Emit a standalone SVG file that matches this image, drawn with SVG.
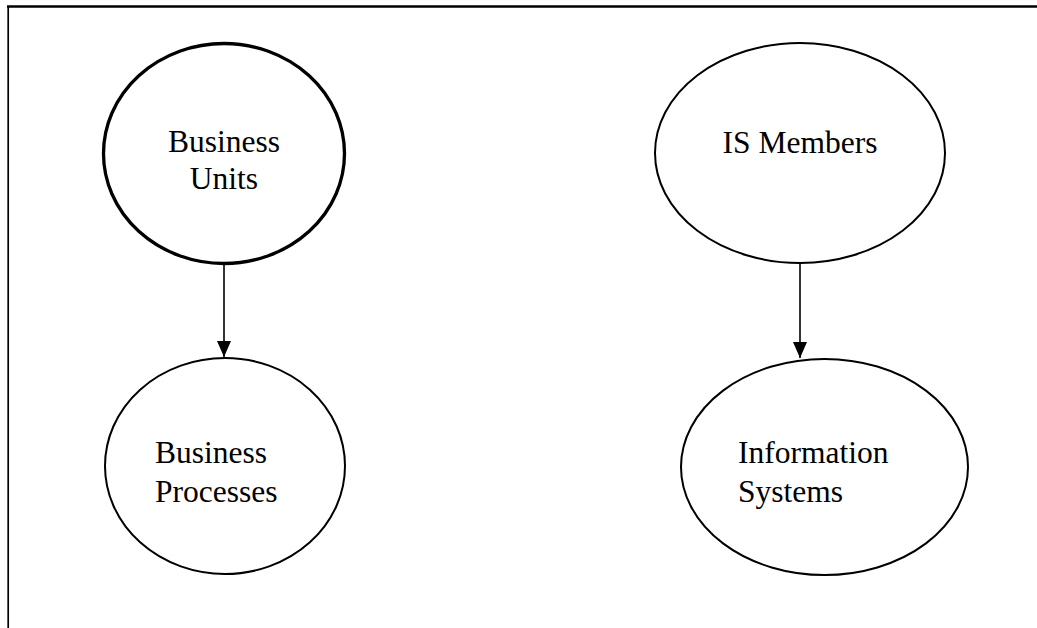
<svg xmlns="http://www.w3.org/2000/svg" width="1037" height="628" viewBox="0 0 1037 628">
<defs>
<style>
.node{fill:#fff;stroke:#000;stroke-width:2}
.thick{stroke-width:3.3}
.lbl{font-family:"Liberation Serif","Times New Roman",serif;font-size:31.5px;fill:#000}
.conn{stroke:#000;stroke-width:1.6;fill:none}
.frame{stroke:#000;fill:none}
</style>
<marker id="arr" viewBox="0 0 16 14" refX="16" refY="7" markerWidth="16" markerHeight="14" markerUnits="userSpaceOnUse" orient="auto">
<path d="M0,0 L16,7 L0,14 Z" fill="#000"/>
</marker>
</defs>
<rect width="1037" height="628" fill="#fff"/>
<g id="frame">
<line class="frame" x1="7" y1="6.5" x2="1037" y2="6.5" stroke-width="2.5"/>
<line class="frame" x1="8.2" y1="6" x2="8.2" y2="628" stroke-width="1.7"/>
</g>
<g id="connectors">
<line class="conn" x1="224" y1="264" x2="224" y2="357" marker-end="url(#arr)"/>
<line class="conn" x1="800" y1="263" x2="800" y2="358" marker-end="url(#arr)"/>
</g>
<g id="business-units">
<ellipse class="node thick" cx="224" cy="153.5" rx="120.5" ry="110"/>
<text class="lbl" x="224" y="152" text-anchor="middle">Business</text>
<text class="lbl" x="224" y="189" text-anchor="middle">Units</text>
</g>
<g id="is-members">
<ellipse class="node" cx="800" cy="153" rx="145" ry="110"/>
<text class="lbl" x="800" y="153" text-anchor="middle">IS Members</text>
</g>
<g id="business-processes">
<ellipse class="node" cx="225" cy="466" rx="120" ry="108"/>
<text class="lbl" x="155" y="463">Business</text>
<text class="lbl" x="155" y="502">Processes</text>
</g>
<g id="information-systems">
<ellipse class="node" cx="824.5" cy="467" rx="143.5" ry="108"/>
<text class="lbl" x="738" y="463">Information</text>
<text class="lbl" x="738" y="502">Systems</text>
</g>
</svg>
